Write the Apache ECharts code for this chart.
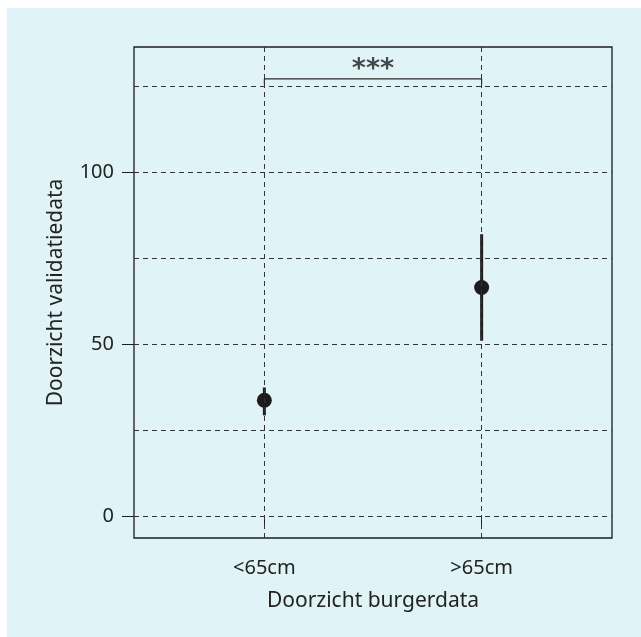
<!DOCTYPE html>
<html>
<head>
<meta charset="utf-8">
<script src="https://cdn.jsdelivr.net/npm/echarts@6/dist/echarts.min.js"></script>
<style>
  html, body { margin: 0; padding: 0; background: #ffffff; }
  #panel { position: absolute; left: 7px; top: 8px; width: 634px; height: 629px; background: #e0f4f7; }
  #chart { position: absolute; left: 0; top: 0; width: 641px; height: 637px; }
</style>
</head>
<body>
<div id="panel"></div>
<div id="chart"></div>
<script>
// Groups and their mean with interval
const categories = ['<65cm', '>65cm'];
const means = [33.7, 66.5];
const lower = [29.3, 51.0];
const upper = [37.4, 82.0];

// Axis ticks and reference lines
const yTickLabels = [0, 50, 100];
const gridValues = [0, 25, 50, 75, 100, 125];

// Significance bracket between the two groups
const sigLevel = 127.2;
const sigTip = 1.6;
const sigLabel = '***';

const xPos = categories.map((c, i) => i + 1);
const ink = '#1c1c1c';
const font = 'Noto Sans';

const chart = echarts.init(document.getElementById('chart'), null, { renderer: 'canvas' });

const dashed = { type: [5, 4], color: '#333333', width: 1 };

chart.setOption({
  backgroundColor: 'transparent',
  animation: false,
  grid: { left: 134, right: 29, top: 47, bottom: 99, show: true, borderColor: ink, borderWidth: 1.3, backgroundColor: 'transparent' },
  xAxis: {
    type: 'value', min: 0.4, max: 2.6,
    name: 'Doorzicht burgerdata', nameLocation: 'middle', nameGap: 53,
    nameTextStyle: { fontFamily: font, fontSize: 21, color: '#222' },
    axisLine: { show: false },
    splitLine: { show: false },
    axisTick: { show: true, length: 11, customValues: xPos, lineStyle: { color: ink, width: 1 } },
    axisLabel: {
      customValues: xPos, margin: 20, fontFamily: font, fontSize: 20, color: '#222',
      formatter: v => categories[Math.round(v) - 1] || ''
    }
  },
  yAxis: {
    type: 'value', min: -6.4, max: 136.5,
    name: 'Doorzicht validatiedata', nameLocation: 'middle', nameGap: 67,
    nameTextStyle: { fontFamily: font, fontSize: 21, color: '#222' },
    axisLine: { show: false },
    splitLine: { show: false },
    axisTick: { show: true, length: 12, customValues: yTickLabels, lineStyle: { color: ink, width: 1 } },
    axisLabel: { customValues: yTickLabels, margin: 20, fontFamily: font, fontSize: 20, color: '#222' }
  },
  series: [
    {
      // dashed reference grid
      type: 'line', data: [], silent: true,
      markLine: {
        silent: true, symbol: 'none', label: { show: false },
        lineStyle: dashed,
        data: gridValues.map(v => ({ yAxis: v })).concat(xPos.map(v => ({ xAxis: v })))
      }
    },
    {
      type: 'custom',
      renderItem: (params, api) => {
        const x = api.value(0);
        const a = api.coord([x, api.value(1)]);
        const b = api.coord([x, api.value(2)]);
        return { type: 'line', shape: { x1: a[0], y1: a[1], x2: b[0], y2: b[1] }, style: { stroke: ink, lineWidth: 3 } };
      },
      data: xPos.map((x, i) => [x, lower[i], upper[i]]),
      z: 3
    },
    {
      type: 'scatter', symbol: 'circle', symbolSize: 15,
      itemStyle: { color: ink, opacity: 1 },
      data: xPos.map((x, i) => [x, means[i]]),
      z: 4
    },
    {
      type: 'line', symbol: 'none',
      lineStyle: { color: '#2a2a2a', width: 1.2 },
      data: [[xPos[0], sigLevel - sigTip], [xPos[0], sigLevel], [xPos[1], sigLevel], [xPos[1], sigLevel - sigTip]],
      z: 3
    },
    {
      type: 'scatter', symbolSize: 0,
      data: [[(xPos[0] + xPos[1]) / 2, sigLevel]],
      label: { show: true, position: 'top', distance: -5, formatter: sigLabel, fontFamily: 'DejaVu Sans', fontWeight: 'bold', fontSize: 27, color: '#1c1c1c' },
      z: 5
    }
  ]
});
</script>
</body>
</html>
